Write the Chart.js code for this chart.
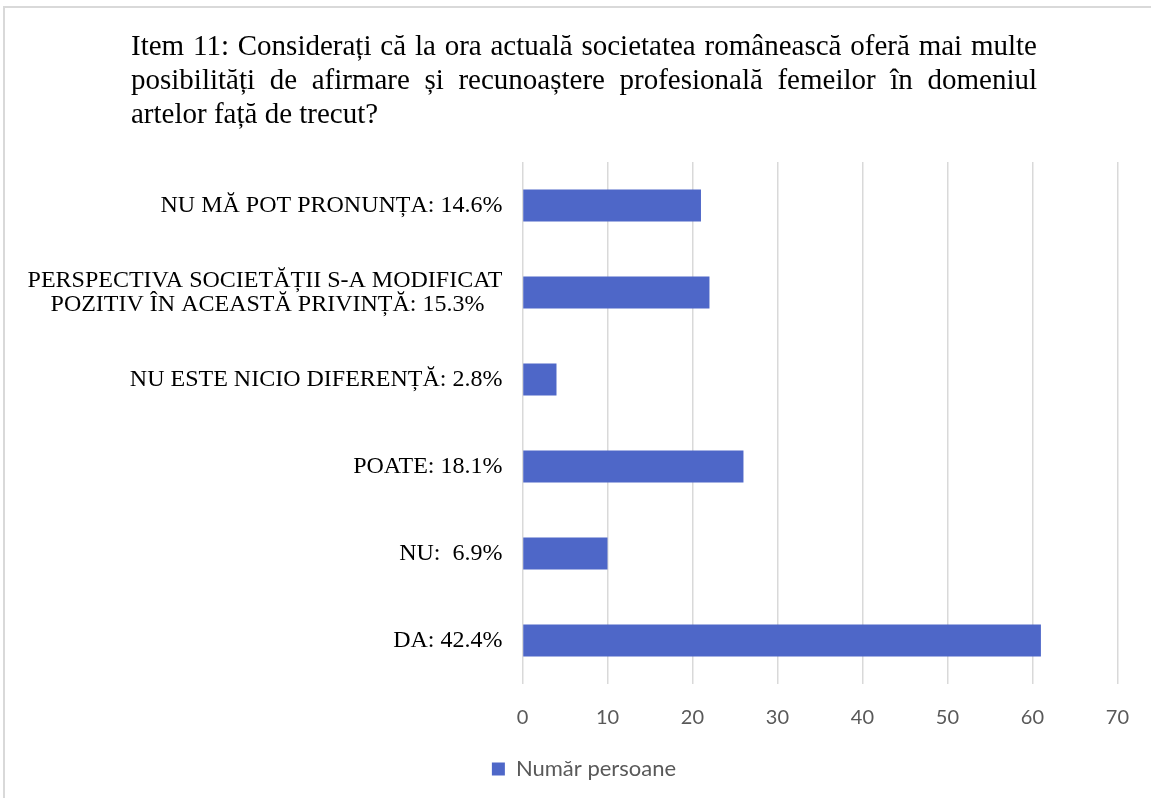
<!DOCTYPE html>
<html>
<head>
<meta charset="utf-8">
<script src="https://cdn.jsdelivr.net/npm/chart.js@4"></script>
<style>
    body { margin: 0; background: #fff; width: 1151px; height: 798px; overflow: hidden; position: relative; }
    #frame { position: absolute; left: 3px; top: 6px; width: 1200px; height: 850px; border-left: 2px solid #d9d9d9; border-top: 2px solid #d9d9d9; }
    #title { position: absolute; left: 131px; top: 28px; width: 906px; font-family: "Liberation Serif", serif; font-size: 29px; line-height: 34px; color: #000; }
    #title .j { display: block; white-space: nowrap; text-align: justify; text-align-last: justify; }
    #title .l { display: block; text-align: left; }
    #wrap { position: absolute; left: 0; top: 0; width: 1151px; height: 798px; }
</style>
</head>
<body>
<div id="frame"></div>
<div id="wrap"><canvas id="chart" width="1151" height="798"></canvas></div>
<div id="title">
    <span class="j">Item 11: Considerați că la ora actuală societatea românească oferă mai multe</span>
    <span class="j">posibilități de afirmare și recunoaștere profesională femeilor în domeniul</span>
    <span class="l">artelor față de trecut?</span>
</div>
<script>
// Data
const categories = [
    'NU MĂ POT PRONUNȚA: 14.6%',
    ['PERSPECTIVA SOCIETĂȚII S-A MODIFICAT', 'POZITIV ÎN ACEASTĂ PRIVINȚĂ: 15.3%'],
    'NU ESTE NICIO DIFERENȚĂ: 2.8%',
    'POATE: 18.1%',
    'NU:  6.9%',
    'DA: 42.4%'
];
const persons = [21, 22, 4, 26, 10, 61];
const seriesName = 'Număr persoane';
const xTicks = [0, 10, 20, 30, 40, 50, 60, 70];

const labelFont = '24px "Liberation Serif"';
const measureCtx = document.createElement('canvas').getContext('2d');
measureCtx.font = labelFont;

// Centre the lines of a wrapped label against each other (Excel style)
const centreLines = (lines) => {
    const widths = lines.map(l => measureCtx.measureText(l).width);
    const widest = Math.max(...widths);
    const space = measureCtx.measureText(' ').width;
    return lines.map((l, i) => l + ' '.repeat(Math.round((widest - widths[i]) / 2 / space)));
};

// Legend sits a little right of the canvas centre in the original
const legendShift = {
    id: 'legendShift',
    afterLayout: (chart) => {
        chart.legend.left += 15;
        chart.legend.right += 15;
    }
};

const ctx = document.getElementById('chart').getContext('2d');
new Chart(ctx, {
    type: 'bar',
    data: {
        labels: categories,
        datasets: [{
            label: seriesName,
            data: persons,
            backgroundColor: '#4e67c8',
            borderWidth: 0,
            barPercentage: 1,
            categoryPercentage: 0.37
        }]
    },
    plugins: [legendShift],
    options: {
        indexAxis: 'y',
        responsive: false,
        animation: false,
        layout: {
            padding: { top: 162, left: 20, right: 33, bottom: 8 }
        },
        plugins: {
            tooltip: { enabled: false },
            legend: {
                position: 'bottom',
                labels: {
                    boxWidth: 13,
                    boxHeight: 13,
                    padding: 10,
                    color: '#595959',
                    font: { family: 'Lato', size: 22 }
                }
            }
        },
        scales: {
            x: {
                min: 0,
                max: 70,
                afterBuildTicks: (scale) => {
                    scale.ticks = xTicks.map(v => ({ value: v }));
                },
                afterFit: (scale) => {
                    scale.height -= 4;
                },
                grid: {
                    color: '#d9d9d9',
                    lineWidth: 1.5,
                    drawTicks: false,
                    tickLength: 0
                },
                border: { display: false },
                ticks: {
                    padding: 22,
                    color: '#595959',
                    font: { family: 'Lato', size: 20 }
                }
            },
            y: {
                afterFit: (scale) => {
                    scale.width = 502.5;
                },
                grid: { display: false, drawTicks: false, tickLength: 0 },
                border: { display: false },
                ticks: {
                    padding: 20,
                    color: '#000',
                    font: { family: 'Liberation Serif', size: 24, lineHeight: 1.0 },
                    callback: function (value) {
                        const label = this.getLabelForValue(value);
                        return Array.isArray(label) ? centreLines(label) : label;
                    }
                }
            }
        }
    }
});
</script>
</body>
</html>
